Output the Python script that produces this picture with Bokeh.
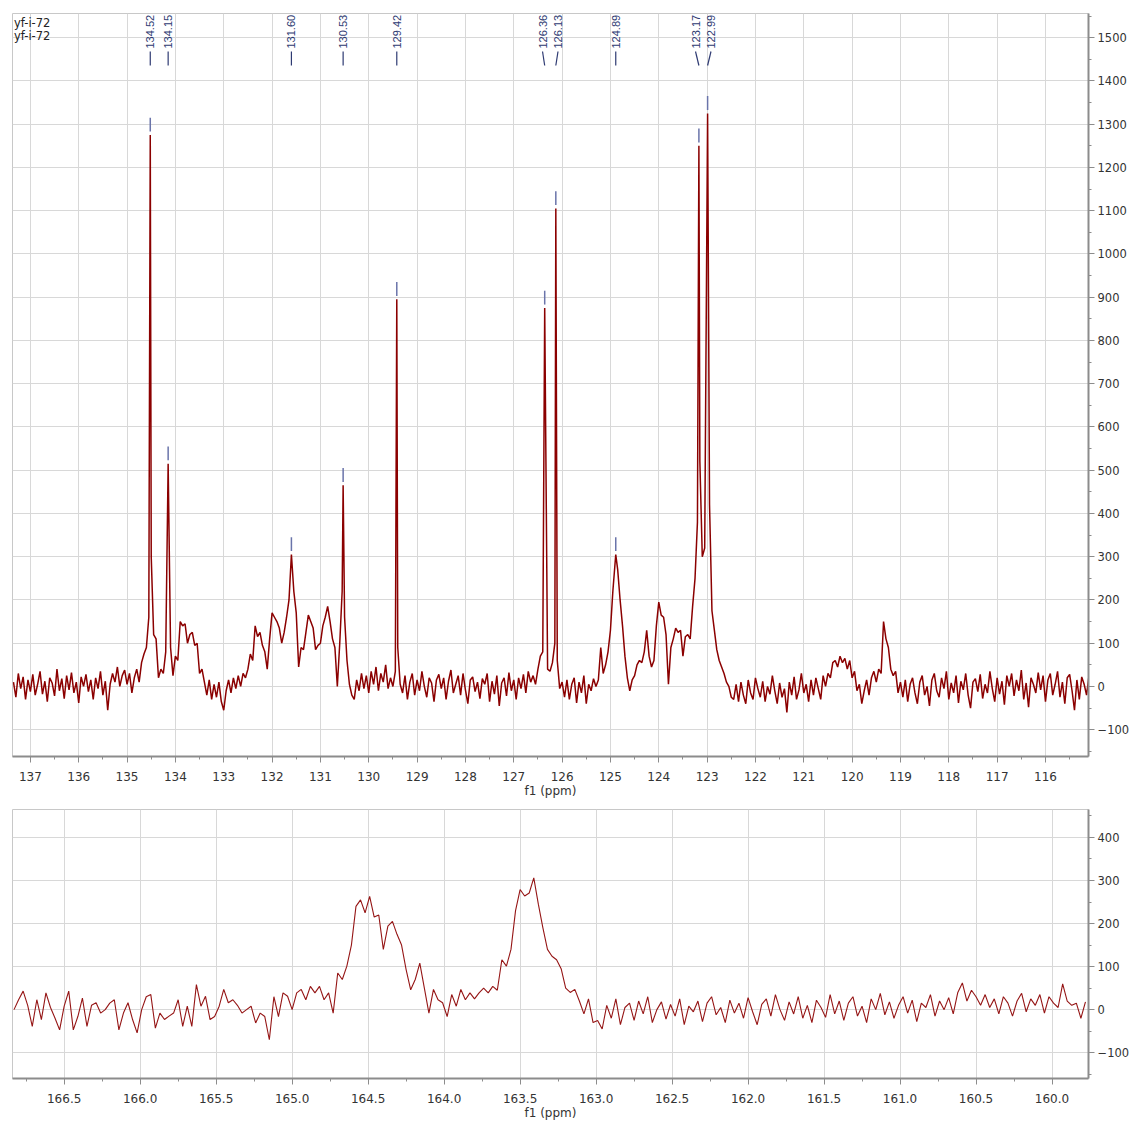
import numpy as np
from bokeh.plotting import figure
from bokeh.layouts import column
from bokeh.models import Range1d, SingleIntervalTicker, PrintfTickFormatter, ColumnDataSource, Label
from bokeh.core.properties import value
from bokeh.embed import file_html
from bokeh.resources import INLINE

# ---------------- data ----------------
# top spectrum, 137.35 -> 115.10 ppm, one reading every 0.05 ppm, in six stretches
top_bounds = [(137.35, 134.70), (134.65, 132.50), (132.45, 130.40),
              (130.35, 126.50), (126.45, 122.45), (122.40, 115.10)]
top_int_1 = [10, -25, 30, -5, 22, -30, 15, -12, 28, -20,
             5, 35, -18, 12, -35, 20, 8, -22, 40, -10,
             18, -28, 25, -8, 32, -15, 10, -38, 22, 0,
             28, -12, 15, -30, 20, -5, 35, -20, 12, -55,
             5, 30, 10, 45, 0, 25, 38, 5, 30, -15,
             20, 40, 10, 55]
top_int_2 = [75, 90, 160, 300, 120, 110, 20, 40, 30, 80,
             515, 90, 25, 70, 60, 150, 140, 145, 100, 120,
             125, 95, 100, 30, 40, 10, -20, 15, -30, 5,
             -25, 10, -35, -55, -10, 15, -15, 20, -5, 25,
             0, 30, 20, 40]
top_int_3 = [75, 60, 140, 115, 125, 95, 80, 40, 110, 170,
             160, 150, 135, 100, 125, 160, 200, 305, 220, 170,
             45, 90, 85, 125, 165, 150, 135, 85, 95, 100,
             140, 160, 185, 150, 110, 90, 0, 100, 220, 160,
             60, 5]
top_int_4 = [-20, -30, 15, -10, 30, -5, 25, -15, 35, 5,
             45, -10, 30, 10, 50, -5, 20, 0, 35, 90,
             5, -15, 25, -30, 10, 30, -20, 15, -10, 35,
             0, -25, 20, 8, -35, 15, 28, -5, 20, -30,
             12, 38, -15, 5, 25, -20, 30, -8, -40, 15,
             22, -12, 10, -28, 18, 5, 30, -35, 12, -18,
             25, -45, 8, 20, -22, 32, -10, 15, -30, 20,
             -5, 28, -15, 35, 10, 25, 5, 40]
top_int_5 = [70, 80, 875, 40, 35, 55, 100, 60, -5, 10,
             -25, 15, -30, 5, 20, -38, 10, -15, 25, -40,
             5, -10, 18, 0, 15, 90, 30, 50, 80, 130,
             220, 305, 270, 200, 140, 70, 20, -10, 15, 25,
             50, 60, 55, 80, 130, 70, 45, 60, 140, 195,
             165, 160, 120, 5, 90, 110, 135, 125, 130, 70,
             115, 120, 110, 185, 250, 380, 520, 300, 320, 1325,
             420, 175, 130, 85, 60, 45, 30, 10, 0, -25,
             -30]
top_int_6 = [5, -35, 10, -20, -40, 15, -15, -30, 20, -5, -25, 12, -35, 0, -18, 25,
             -10, -40, 8, -25, -5, -60, 10, -20, 22, -30, -8, 30, -15, 5, -35, 15,
             -20, 20, -5, -30, 25, 0,
             30, 20, 55, 60, 45, 70, 55, 65, 40, 60, 20, 35, -10, 5, -40, -10,
             15, -20, 20, 35, 10, 40, 30, 150, 110, 90, 40, 25, 35, -15, 10,
             -25, 15, -35, 5, 20, -15, -40, 10, 25, -20, 0, -45, 15, 30, -10, -25,
             20, -5, 35, -30, 8, -15, 25, -38, 12, -8, 30, -20, -50, 10, 18, -12,
             28, -28, 5, -15, 35, -5, -35, 20, -18, 12, -42, 25, 0, 30, -22, 15,
             -10, 38, -30, 8, -48, 20, 5, -15, 32, -8, 25, -35, 15, 30, -20, 5,
             35, -25, 10, -40, 20, 28, -10, -55, 15, -30, 22, 5, -20, 25]

# picked peaks of the top spectrum
top_peak_ppm = [134.52, 134.15, 131.60, 130.53, 129.42, 126.36, 126.13, 124.89, 123.17, 122.99]
top_peak_int = [1275, 515, 305, 465, 895, 875, 1105, 305, 1250, 1325]
top_peak_text = ["134.52", "134.15", "131.60", "130.53", "129.42",
                 "126.36", "126.13", "124.89", "123.17", "122.99"]

# bottom spectrum, 166.83 -> 159.78 ppm, one reading every 0.03 ppm
bot_bounds = [(166.83, 162.99), (162.96, 159.78)]
bot_int_1 = [0, 23, 43, 10, -39, 23, -23, 39, 5, -20,
             -47, 8, 43, -47, -16, 27, -39, 10, 16, -8,
             0, 15, 23, -47, -8, 16, -23, -54, 0, 30,
             35, -43, -8, -23, -15, -8, 23, -39, 8, -39,
             58, 8, 31, -23, -16, 8, 47, 16, 23, 10,
             -8, 0, 8, -31, -8, -16, -70, 30, -16, 39,
             31, 0, 39, 47, 23, 54, 39, 54, 23, 39,
             -8, 85, 70, 101, 150, 240, 255, 225, 263, 215,
             220, 140, 194, 205, 175, 150, 93, 46, 70, 108,
             50, -8, 47, 23, 16, -16, 35, 8, 47, 23,
             39, 25, 39, 50, 39, 54, 45, 116, 101, 140,
             230, 279, 264, 271, 306, 245, 190, 140, 124, 116,
             95, 50, 40, 47, 20, -10, 25, -30, -25]
bot_int_2 = [-45, 10, -20, 25, -35, 5, 15, -25, 20, -10, 30, -30, 0, 18, -22, 12,
             -15, 25, -35, 8, -5, 20, -28, 15, 30, -12, 5, -30, 22, -8, 15, -20,
             28, -5, -35, 12, 25, -15, 35, 0, -25, 18, -10, 30, -20, 10, -30, 22,
             5, -18, 35, -10, 20, -25, 15, 30, -15, 8, -30, 25, 0, 38, -12, 18,
             -20, 10, 30, -8, 22, -28, 15, 5, 35, -15, 20, 0, 28, -10, 40, 62,
             20, 45, 30, 10, 35, 5, 25, -10, 30, 15, -15, 20, 38, -5, 25, 10,
             35, -8, 30, 15, 5, 60, 20, 10, 15, -20, 18]

sample_name = ["yf-i-72", "yf-i-72"]
axis_title = "f1 (ppm)"

# ---------------- layout / style ----------------
TOP_XR = (137.37, 115.11)
TOP_YR = (-162, 1556)
BOT_XR = (166.84, 159.76)
BOT_YR = (-160, 465)
FRAME_W = 1076
TOP_FH = 743
BOT_FH = 269
LINE_RED = "#8b0000"
LABEL_BLUE = "#2e3a72"
MARK_BLUE = "#6a74aa"
FONT = "DejaVu Sans"


def assemble(bounds, segs, px=(), py=()):
    xs = np.concatenate([np.linspace(a, b, len(s)) for (a, b), s in zip(bounds, segs)])
    ys = np.concatenate([np.asarray(s, dtype=float) for s in segs])
    keep = np.ones(len(xs), dtype=bool)
    for c in px:
        keep &= np.abs(xs - c) > 0.012
    xs = np.concatenate([xs[keep], np.asarray(px, dtype=float)])
    ys = np.concatenate([ys[keep], np.asarray(py, dtype=float)])
    order = np.argsort(-xs)
    return xs[order], ys[order]


def make_fig(xr, yr, fh, border_top, xint, fmt):
    p = figure(frame_width=FRAME_W, frame_height=fh,
               x_range=Range1d(*xr), y_range=Range1d(*yr),
               y_axis_location="right", toolbar_location=None, output_backend="svg",
               min_border_left=12, min_border_right=0, min_border_top=border_top,
               min_border_bottom=0, background_fill_color="white",
               border_fill_color="white")
    p.outline_line_color = "#c8c8c8"
    xt = SingleIntervalTicker(interval=xint, num_minor_ticks=2)
    yt = SingleIntervalTicker(interval=100, num_minor_ticks=2)
    p.xaxis.ticker = xt
    p.xgrid.ticker = xt
    p.yaxis.ticker = yt
    p.ygrid.ticker = yt
    p.xaxis.formatter = PrintfTickFormatter(format=fmt)
    for g in (p.xgrid, p.ygrid):
        g.grid_line_color = "#d8d8d8"
        g.grid_line_width = 1
    for ax in (p.xaxis, p.yaxis):
        ax.axis_line_color = "#8c8c8c"
        ax.axis_line_width = 2
        ax.major_tick_line_color = "#8c8c8c"
        ax.minor_tick_line_color = "#8c8c8c"
        ax.major_tick_in = 0
        ax.minor_tick_in = 0
        ax.major_tick_out = 6
        ax.minor_tick_out = 3
        ax.major_label_text_font = FONT
        ax.major_label_text_color = "#333333"
    p.xaxis.major_label_text_font_size = "12px"
    p.yaxis.major_label_text_font_size = "11.5px"
    p.xaxis.major_label_standoff = 9
    p.yaxis.major_label_standoff = 3
    p.xaxis.axis_label = axis_title
    p.xaxis.axis_label_text_font = FONT
    p.xaxis.axis_label_text_font_size = "12px"
    p.xaxis.axis_label_text_font_style = "normal"
    p.xaxis.axis_label_text_color = "#333333"
    p.xaxis.axis_label_standoff = 0
    return p


# ---------------- top panel ----------------
tx, ty = assemble(top_bounds, [top_int_1, top_int_2, top_int_3, top_int_4, top_int_5, top_int_6],
                  top_peak_ppm, top_peak_int)
top = make_fig(TOP_XR, TOP_YR, TOP_FH, 13, 1, "%d")
top.line(tx, ty, line_color=LINE_RED, line_width=1.5)

# label positions: spread labels that would overlap
min_sep = 0.32
lab_x = list(top_peak_ppm)
for i in range(len(lab_x) - 1):
    d = lab_x[i] - lab_x[i + 1]
    if d < min_sep:
        push = (min_sep - d) / 2
        lab_x[i] += push
        lab_x[i + 1] -= push

units_per_px = (TOP_YR[1] - TOP_YR[0]) / TOP_FH
y_text = TOP_YR[1] - 35 * units_per_px
y_l0 = TOP_YR[1] - 38 * units_per_px
y_l1 = TOP_YR[1] - 52 * units_per_px

src = ColumnDataSource(dict(lx=lab_x, px=top_peak_ppm, h=top_peak_int, t=top_peak_text,
                            yt=[y_text] * len(lab_x), y0=[y_l0] * len(lab_x),
                            y1=[y_l1] * len(lab_x),
                            m0=[v + 8 for v in top_peak_int], m1=[v + 40 for v in top_peak_int]))
top.text(x="lx", y="yt", text="t", source=src, angle=np.pi / 2, text_align="left",
         text_baseline="middle", text_color=LABEL_BLUE, text_font=value("Liberation Sans"),
         text_font_size="11px")
top.segment(x0="lx", y0="y0", x1="px", y1="y1", source=src, line_color=LABEL_BLUE, line_width=1.2)
top.segment(x0="px", y0="m0", x1="px", y1="m1", source=src, line_color=MARK_BLUE, line_width=1.5)

x_name = TOP_XR[0] - 1.5 / (FRAME_W / (TOP_XR[0] - TOP_XR[1]))
for i, name in enumerate(sample_name):
    top.add_layout(Label(x=x_name, y=TOP_YR[1] - (9 + 13 * i) * units_per_px, text=name,
                         text_font=FONT, text_font_size="11.5px", text_color="#222222",
                         text_baseline="middle", text_align="left"))

# ---------------- bottom panel ----------------
bx, by = assemble(bot_bounds, [bot_int_1, bot_int_2])
bot = make_fig(BOT_XR, BOT_YR, BOT_FH, 9, 0.5, "%.1f")
bot.line(bx, by, line_color="#951515", line_width=1.1)

layout = column(top, bot, spacing=0)
open("out.html", "w").write(file_html(layout, INLINE))
